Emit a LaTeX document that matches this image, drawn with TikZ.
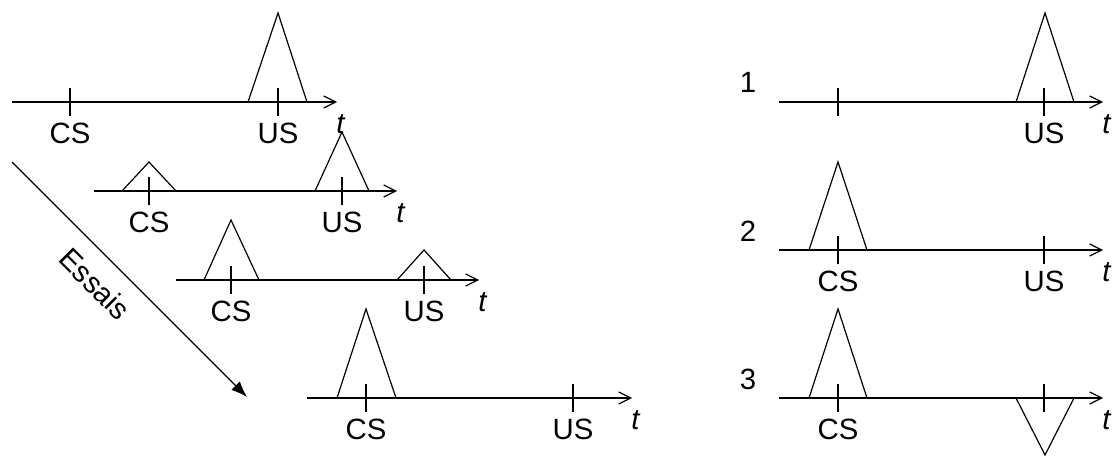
\documentclass[tikz,border=0pt]{standalone}
\usepackage{fontspec}
\setmainfont{Liberation Sans}
\usetikzlibrary{arrows.meta}

\newcommand{\marktick}[2]{\draw[tick] (#1,#2-14) -- (#1,#2+14);}

\begin{document}
\begin{tikzpicture}[
    x=0.75pt, y=-0.75pt,
    axis/.style={-{Straight Barb[length=9pt,width=9pt]}, line width=0.9pt},
    tick/.style={line width=0.9pt},
    bump/.style={line width=0.9pt, line join=miter},
    trial/.style={-{Latex[length=12pt,width=9pt]}, line width=0.8pt},
    lbl/.style={font=\fontsize{22}{26}\selectfont, anchor=base, inner sep=0pt},
    tvar/.style={font=\fontsize{22}{26}\selectfont\itshape, anchor=base west, inner sep=0pt}
]
\useasboundingbox (0,0) rectangle (1116,456);

% Left: successive trials
% Trial 1
\coordinate (l1s) at (12,102);
\coordinate (l1e) at (337,102);
\draw[axis] (l1s) -- (l1e);
\marktick{70}{102}
\marktick{278}{102}
\draw[bump] (248,102) -- (278,13) -- (307,102);
\node[lbl] (l1cs) at (70,143) {CS};
\node[lbl] (l1us) at (278,143) {US};
\node[tvar] (l1t) at (336,133) {t};

% Trial 2
\coordinate (l2s) at (94,191);
\coordinate (l2e) at (397,191);
\draw[axis] (l2s) -- (l2e);
\marktick{149}{191}
\marktick{342}{191}
\draw[bump] (122,191) -- (149,162) -- (176,191);
\draw[bump] (315,191) -- (342,132) -- (369,191);
\node[lbl] (l2cs) at (149,232) {CS};
\node[lbl] (l2us) at (342,232) {US};
\node[tvar] (l2t) at (396,222) {t};

% Trial 3
\coordinate (l3s) at (176,280);
\coordinate (l3e) at (479,280);
\draw[axis] (l3s) -- (l3e);
\marktick{231}{280}
\marktick{424}{280}
\draw[bump] (204,280) -- (231,220) -- (259,280);
\draw[bump] (397,280) -- (424,250) -- (451,280);
\node[lbl] (l3cs) at (231,321) {CS};
\node[lbl] (l3us) at (424,321) {US};
\node[tvar] (l3t) at (478,311) {t};

% Trial 4
\coordinate (l4s) at (307,398);
\coordinate (l4e) at (632,398);
\draw[axis] (l4s) -- (l4e);
\marktick{366}{398}
\marktick{573}{398}
\draw[bump] (337,398) -- (366,309) -- (396,398);
\node[lbl] (l4cs) at (366,439) {CS};
\node[lbl] (l4us) at (573,439) {US};
\node[tvar] (l4t) at (631,429) {t};

% Trials arrow
\coordinate (trs) at (12,162);
\coordinate (tre) at (247,397);
\draw[trial] (trs) -- (tre);
\node[lbl, anchor=center, rotate=-45] (essais) at (95,284) {Essais};

% Right: cases 1 to 3
% Case 1
\node[lbl] (n1) at (748,93) {1};
\coordinate (r1s) at (779,102);
\coordinate (r1e) at (1103,102);
\draw[axis] (r1s) -- (r1e);
\marktick{838}{102}
\marktick{1044}{102}
\draw[bump] (1016,102) -- (1045,13) -- (1074,102);
\node[lbl] (r1us) at (1044,143) {US};
\node[tvar] (r1t) at (1102,133) {t};

% Case 2
\node[lbl] (n2) at (748,241) {2};
\coordinate (r2s) at (779,250);
\coordinate (r2e) at (1103,250);
\draw[axis] (r2s) -- (r2e);
\marktick{838}{250}
\marktick{1044}{250}
\draw[bump] (809,250) -- (838,162) -- (867,250);
\node[lbl] (r2cs) at (838,291) {CS};
\node[lbl] (r2us) at (1044,291) {US};
\node[tvar] (r2t) at (1102,281) {t};

% Case 3
\node[lbl] (n3) at (748,389) {3};
\coordinate (r3s) at (779,398);
\coordinate (r3e) at (1103,398);
\draw[axis] (r3s) -- (r3e);
\marktick{838}{398}
\marktick{1044}{398}
\draw[bump] (809,398) -- (838,309) -- (867,398);
\draw[bump] (1016,398) -- (1045,455) -- (1074,398);
\node[lbl] (r3cs) at (838,439) {CS};
\node[tvar] (r3t) at (1102,429) {t};

\end{tikzpicture}
\end{document}
